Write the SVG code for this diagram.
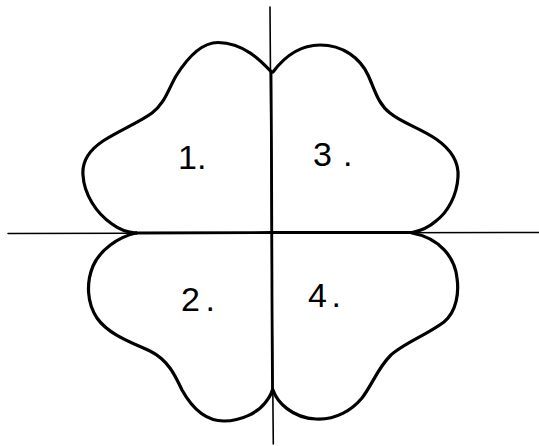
<svg xmlns="http://www.w3.org/2000/svg" width="539" height="446" viewBox="0 0 539 446">
<style>
.leaf{fill:none;stroke:#000;stroke-width:3.2;stroke-linecap:round;stroke-linejoin:round}
.axis{fill:none;stroke:#000;stroke-width:1.6;stroke-linecap:round}
.thick{fill:none;stroke:#000;stroke-width:2.8;stroke-linecap:round}
.lbl{font-family:"Liberation Sans",Arial,sans-serif;font-size:34px;fill:#000}
</style>
<rect width="539" height="446" fill="#fff"/>
<g id="axes">
<path class="axis" d="M 8 233.5 L 539 232.5"/>
<path class="axis" d="M 270 7 L 271 150 L 272 300 L 273.3 444"/>
<path class="thick" d="M 136 233 L 271.5 232.5 L 412 232.5"/>
<path class="thick" d="M 271 72 L 271.5 150 L 272 300 L 272.5 392"/>
</g>
<g id="leaf1">
<path class="leaf" d="M 271.5 72 C 262 62, 245 43, 218 42.5 C 200 42.5, 186 60, 176 76 C 168 90, 165 103, 152 113 C 140 122, 120 130, 103 141 C 88 151, 82 163, 83 175 C 84 194, 96 213, 112 224 C 120 230, 128 232.5, 136 233"/>
<text class="lbl" x="178" y="169">1.</text>
</g>
<g id="leaf3">
<path class="leaf" d="M 273 72 C 282 60, 298 45, 320 45 C 343 45, 360 58, 368 75 C 375 90, 378 104, 390 113 C 402 123, 420 128, 436 139 C 452 150, 459 162, 458 177 C 457 195, 448 212, 436 221 C 428 228, 420 231, 412 232.5"/>
<text class="lbl" x="313" y="166">3<tspan dx="11">.</tspan></text>
</g>
<g id="leaf2">
<path class="leaf" d="M 136 233 C 118 237, 100 250, 93 266 C 86 283, 87 303, 97 318 C 108 334, 130 342, 150 351 C 168 360, 175 375, 182 390 C 192 408, 205 421, 224 421 C 242 421, 258 412, 265 403 C 269 398, 271 395, 272 391"/>
<text class="lbl" x="181" y="311">2<tspan dx="5.5">.</tspan></text>
</g>
<g id="leaf4">
<path class="leaf" d="M 273 390 C 277 402, 292 418, 316 419 C 336 420, 352 410, 362 398 C 372 385, 378 368, 390 356 C 402 344, 425 336, 444 322 C 457 311, 459 292, 457 278 C 455 258, 440 238, 412 233"/>
<text class="lbl" x="308" y="307">4<tspan dx="4.5">.</tspan></text>
</g>
</svg>
